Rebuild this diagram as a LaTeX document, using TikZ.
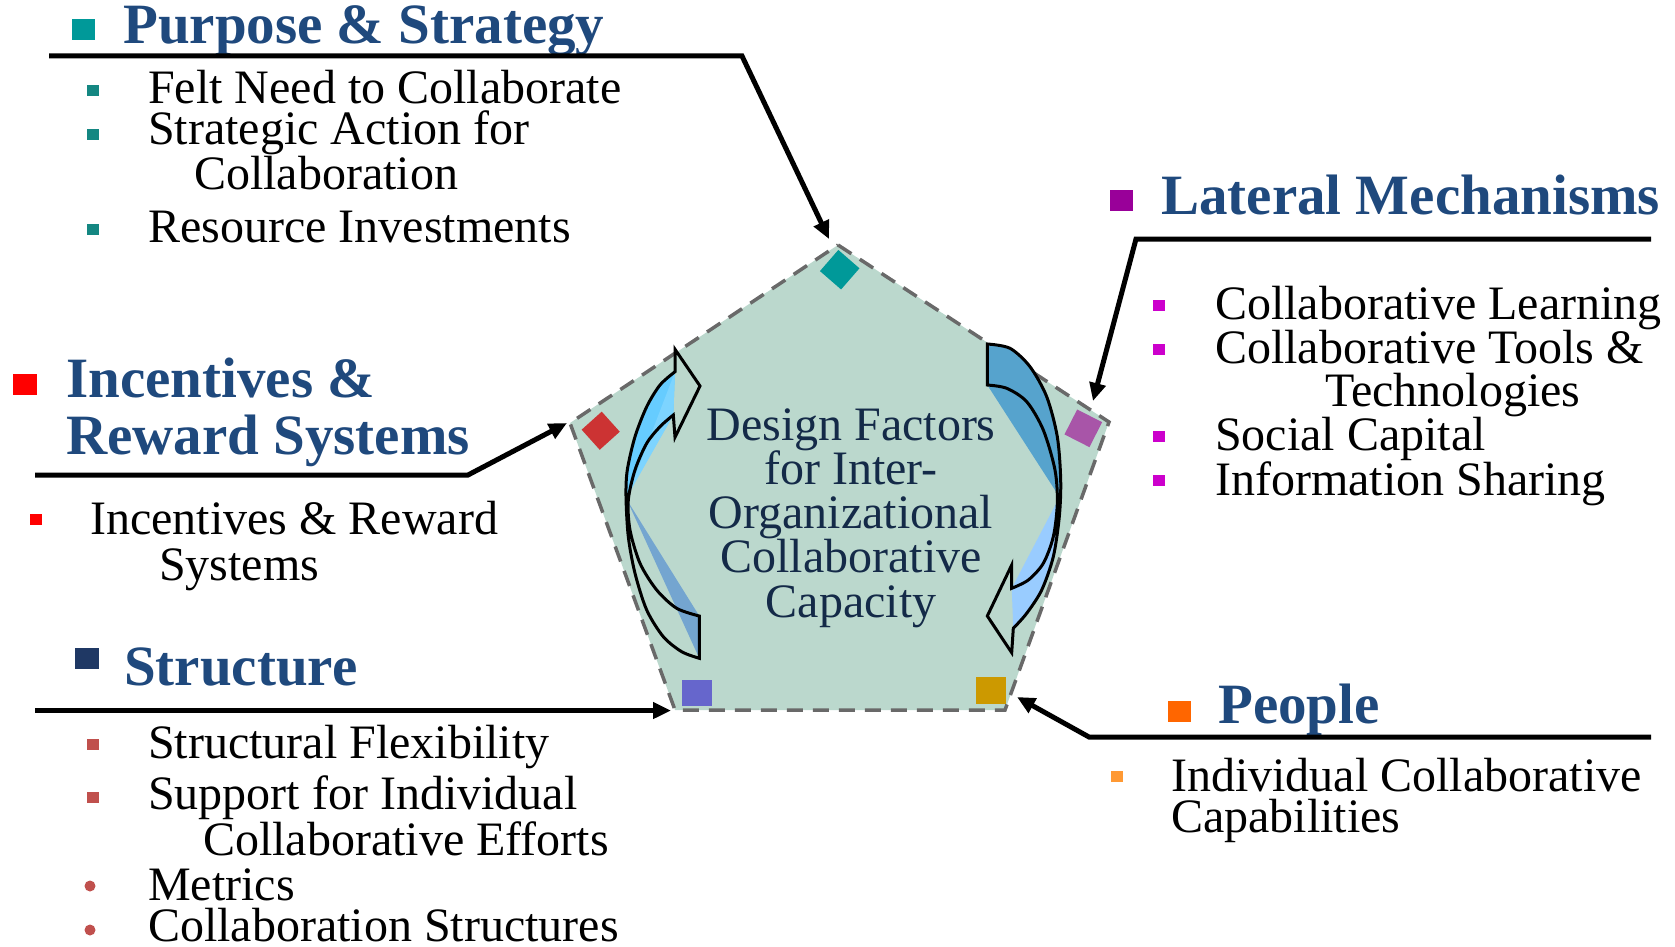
\documentclass[tikz,border=0pt]{standalone}
\usepackage{fontspec}
\setmainfont{Liberation Serif}
\usetikzlibrary{arrows.meta}
\definecolor{hd}{RGB}{31,73,125}
\definecolor{ctxt}{RGB}{20,42,72}
\definecolor{pent}{RGB}{187,216,205}
\definecolor{pentline}{RGB}{105,105,105}
\definecolor{tealA}{RGB}{0,153,153}
\definecolor{tealB}{RGB}{20,135,130}
\definecolor{purpA}{RGB}{153,0,153}
\definecolor{magB}{RGB}{204,0,204}
\definecolor{redA}{RGB}{255,0,0}
\definecolor{navyA}{RGB}{31,56,100}
\definecolor{irB}{RGB}{192,80,77}
\definecolor{orA}{RGB}{255,102,0}
\definecolor{orB}{RGB}{255,153,51}
\definecolor{diaT}{RGB}{0,153,153}
\definecolor{diaR}{RGB}{204,51,51}
\definecolor{diaP}{RGB}{168,85,168}
\definecolor{sqB}{RGB}{102,102,204}
\definecolor{sqG}{RGB}{204,153,0}
\definecolor{lLight}{RGB}{102,204,255}
\definecolor{lLight2}{RGB}{125,212,255}
\definecolor{lDark}{RGB}{116,165,208}
\definecolor{rDark}{RGB}{86,163,205}
\definecolor{rLight}{RGB}{153,204,255}
\begin{document}
\begin{tikzpicture}[x=1pt,y=-1pt,
  conn/.style={line width=5pt,-{Triangle[length=18pt,width=16pt]},line join=miter},
  headtxt/.style={anchor=base west,inner sep=0pt,text=hd,align=left,font=\fontsize{57}{57}\selectfont\bfseries},
  bodytxt/.style={anchor=base west,inner sep=0pt,align=left,font=\fontsize{48}{44}\selectfont},
  ctrtxt/.style={anchor=base,inner sep=0pt,text=ctxt,align=center,font=\fontsize{48}{44.25}\selectfont},
  bigsq/.style={rectangle,inner sep=0pt,minimum width=23pt,minimum height=21pt},
  smsq/.style={rectangle,inner sep=0pt,minimum width=12pt,minimum height=11pt},
  smdot/.style={circle,inner sep=0pt,minimum size=11pt},
  dia/.style={rectangle,inner sep=0pt,minimum size=28pt},
  aline/.style={draw=black,line width=3pt,line join=miter}
]
\useasboundingbox (0,0) rectangle (1675,947);

% ---------- pentagon ----------
\coordinate (vT) at (838,245);
\coordinate (vR) at (1109,422);
\coordinate (vBR) at (1005,710);
\coordinate (vBL) at (675,710);
\coordinate (vL) at (570,423);
\draw[fill=pent,draw=pentline,line width=3.5pt,dash pattern=on 16pt off 10pt]
  (vT) -- (vR) -- (vBR) -- (vBL) -- (vL) -- cycle;

\node[dia,fill=diaT,rotate=-41] (dT) at (839.7,269.7) {};
\node[dia,fill=diaR,rotate=-48,minimum size=27pt] (dR) at (600.7,430.7) {};
\node[dia,fill=diaP,rotate=-27] (dP) at (1083.3,428.3) {};
\node[rectangle,inner sep=0pt,minimum width=30pt,minimum height=26pt,fill=sqB] (sB) at (697,693) {};
\node[rectangle,inner sep=0pt,minimum width=30pt,minimum height=27pt,fill=sqG] (sG) at (990.7,690) {};

% ---------- left curved arrow ----------
\fill[lLight] plot[smooth] coordinates {(626,496.7) (627.3,470) (635,436.7) (646.7,406.7) (660,385) (675,371.7)} -- (673.3,415) -- cycle;
\fill[lLight2] (627,497) -- (675,371.7) -- (673.3,415) -- cycle;
\fill[lDark] (627,500) -- (699.3,616) -- (699.3,658.3) -- cycle;
\draw[aline] plot[smooth] coordinates {(699.3,658.3) (681.7,651.7) (663.3,636.7) (646.7,610) (635,573.3) (628.3,536.7) (626,496.7) (627.3,470) (635,436.7) (646.7,406.7) (660,385) (675,371.7)}
  -- (675,349.3) -- (700,386) -- (675,437.3) -- (673.3,415)
  -- plot[smooth] coordinates {(673.3,415) (660,426.7) (646.7,443.3) (635,470) (628.3,500) (630,530) (640,563.3) (656.7,590) (676.7,608.3) (699.3,616)}
  -- cycle;

% ---------- right curved arrow ----------
\fill[rDark] plot[smooth] coordinates {(987.3,344) (1010,348.3) (1030,366.7) (1046.7,396.7) (1057.3,436.7) (1060.7,480) (1059.5,497)} -- (987.3,385) -- cycle;
\fill[rLight] plot[smooth] coordinates {(1059.5,497) (1059.3,516.7) (1053.3,556.7) (1041.7,590) (1026.7,613.3) (1013.3,628.3)} -- (1011.7,588.3) -- cycle;
\draw[aline] plot[smooth] coordinates {(987.3,344) (1010,348.3) (1030,366.7) (1046.7,396.7) (1057.3,436.7) (1060.7,480) (1059.3,516.7) (1053.3,556.7) (1041.7,590) (1026.7,613.3) (1013.3,628.3)}
  -- (1011.7,652.7) -- (987.3,616) -- (1011.7,565) -- (1011.7,588.3)
  -- plot[smooth] coordinates {(1011.7,588.3) (1028.3,580) (1043.3,563.3) (1053.3,536.7) (1057.3,503.3) (1055,470) (1043.3,430) (1026.7,401.7) (1006.7,388.3) (987.3,385)}
  -- cycle;

% ---------- centre text (base = last line) ----------
\node[ctrtxt] (ctr) at (851,617) {Design Factors\\for Inter-\\Organizational\\Collaborative\\Capacity};

% ---------- Purpose & Strategy ----------
\node[bigsq,fill=tealA] (b1) at (83,30) {};
\node[headtxt] (h1) at (123,44) {Purpose \& Strategy};
\node[smsq,fill=tealB] (b1a) at (93,90.5) {};
\node[smsq,fill=tealB] (b1b) at (93,135) {};
\node[smsq,fill=tealB] (b1c) at (93,229.5) {};
\node[bodytxt] (t1a) at (148,104) {Felt Need to Collaborate};
\node[bodytxt,font=\fontsize{48}{41}\selectfont] (t1b) at (148,189) {Strategic Action for\\\hspace*{46pt}Collaboration};
\node[bodytxt] (t1c) at (148,242) {Resource Investments};
\coordinate (a1s) at (49,56);
\coordinate (a1c) at (742,56);
\coordinate (a1e) at (829,239);
\draw[conn] (a1s) -- (a1c) -- (a1e);

% ---------- Lateral Mechanisms ----------
\node[bigsq,fill=purpA] (b2) at (1121,200) {};
\node[headtxt] (h2) at (1161,214) {Lateral Mechanisms};
\node[smsq,fill=magB] (b2a) at (1159,305) {};
\node[smsq,fill=magB] (b2b) at (1159,349) {};
\node[smsq,fill=magB] (b2c) at (1159,436) {};
\node[smsq,fill=magB] (b2d) at (1159,480) {};
\node[bodytxt] (t2a) at (1215,319) {Collaborative Learning};
\node[bodytxt,font=\fontsize{48}{43}\selectfont] (t2b) at (1215,406) {Collaborative Tools \&\\\hspace*{110pt}Technologies};
\node[bodytxt] (t2c) at (1215,450) {Social Capital};
\node[bodytxt] (t2d) at (1215,495) {Information Sharing};
\coordinate (a2s) at (1651,239);
\coordinate (a2c) at (1136,239);
\coordinate (a2e) at (1093,401);
\draw[conn] (a2s) -- (a2c) -- (a2e);

% ---------- Incentives & Reward Systems ----------
\node[bigsq,fill=redA,minimum width=24pt] (b3) at (25,384) {};
\node[headtxt] (h3) at (66,454) {Incentives \&\\Reward Systems};
\node[smsq,fill=redA] (b3a) at (36,519) {};
\node[bodytxt,font=\fontsize{48}{46}\selectfont] (t3a) at (90,580) {Incentives \& Reward\\\hspace*{69pt}Systems};
\coordinate (a3s) at (35,475);
\coordinate (a3c) at (468,475);
\coordinate (a3e) at (567,423);
\draw[conn] (a3s) -- (a3c) -- (a3e);

% ---------- Structure ----------
\node[bigsq,fill=navyA,minimum width=24pt] (b4) at (87,658) {};
\node[headtxt] (h4) at (124,685) {Structure};
\node[smsq,fill=irB] (b4a) at (92.5,744.5) {};
\node[smsq,fill=irB] (b4b) at (92.5,797) {};
\node[smdot,fill=irB] (b4c) at (90,886) {};
\node[smdot,fill=irB] (b4d) at (90,930) {};
\node[bodytxt] (t4a) at (148,758) {Structural Flexibility};
\node[bodytxt] (t4b) at (148,855) {Support for Individual\\\hspace*{55pt}Collaborative Efforts};
\node[bodytxt] (t4c) at (148,900) {Metrics};
\node[bodytxt] (t4d) at (148,941) {Collaboration Structures};
\coordinate (a4s) at (35,710.5);
\coordinate (a4e) at (671,710.5);
\draw[conn] (a4s) -- (a4e);

% ---------- People ----------
\node[bigsq,fill=orA] (b5) at (1179,711) {};
\node[headtxt] (h5) at (1218,723) {People};
\node[smsq,fill=orB] (b5a) at (1116.5,776) {};
\node[bodytxt,font=\fontsize{48}{41}\selectfont] (t5a) at (1171,832) {Individual Collaborative\\Capabilities};
\coordinate (a5s) at (1651,737);
\coordinate (a5c) at (1089,737);
\coordinate (a5e) at (1017,697);
\draw[conn] (a5s) -- (a5c) -- (a5e);
\end{tikzpicture}
\end{document}
